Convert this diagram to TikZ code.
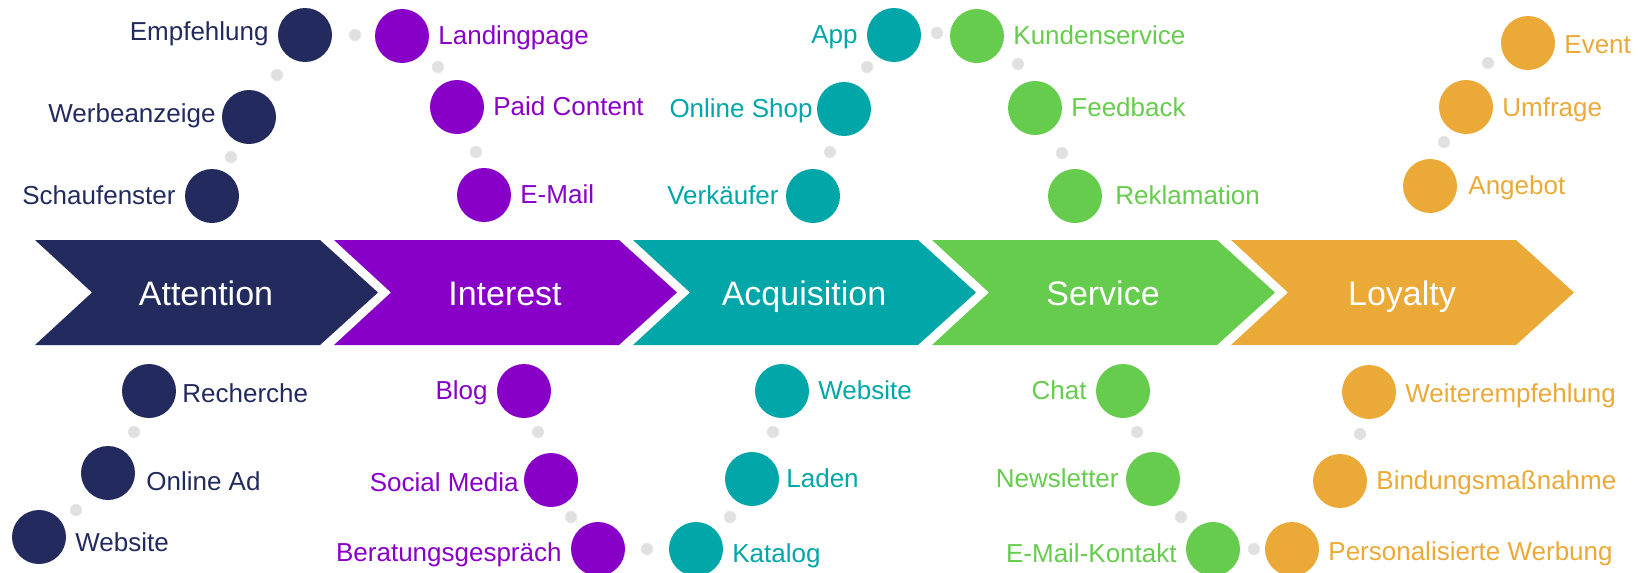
\documentclass[tikz,border=0pt]{standalone}
\usepackage{fontspec}
\setmainfont{Liberation Sans}
\usepackage{xcolor}
\definecolor{navy}{RGB}{35,43,94}
\definecolor{violet}{RGB}{136,0,200}
\definecolor{teal}{RGB}{0,166,168}
\definecolor{grass}{RGB}{102,204,77}
\definecolor{amber}{RGB}{235,169,56}
\definecolor{linkgray}{RGB}{224,224,224}

\begin{document}
\begin{tikzpicture}[x=1pt, y=-1pt,
    spot/.style={circle, fill=#1, minimum size=54pt, inner sep=0pt},
    tag/.style={text=#1, font=\fontsize{26}{30}\selectfont, inner sep=0pt, text height=18pt, text depth=1pt},
    ltag/.style={tag=#1, xshift=-9pt},
    rtag/.style={tag=#1, xshift=9pt},
    link/.style={circle, fill=linkgray, draw=linkgray!60, line width=0.6pt, minimum size=12pt, inner sep=0pt},
    stage/.style={text=white, font=\fontsize{34}{40}\selectfont, inner sep=0pt, anchor=base}
]
\useasboundingbox (0,0) rectangle (1642,573);
\clip (0,0) rectangle (1642,573);

% phase chevrons
\fill[navy]   (35,240)   -- ++(285,0) -- ++(58,52.5) -- ++(-58,52.5) -- ++(-285,0) -- ++(57,-52.5) -- cycle;
\fill[violet] (334,240)  -- ++(285,0) -- ++(58,52.5) -- ++(-58,52.5) -- ++(-285,0) -- ++(57,-52.5) -- cycle;
\fill[teal]   (633,240)  -- ++(285,0) -- ++(58,52.5) -- ++(-58,52.5) -- ++(-285,0) -- ++(57,-52.5) -- cycle;
\fill[grass]  (932,240)  -- ++(285,0) -- ++(58,52.5) -- ++(-58,52.5) -- ++(-285,0) -- ++(57,-52.5) -- cycle;
\fill[amber]  (1231,240) -- ++(285,0) -- ++(58,52.5) -- ++(-58,52.5) -- ++(-285,0) -- ++(57,-52.5) -- cycle;

\node[stage] (attention)   at (206,305)  {Attention};
\node[stage] (interest)    at (505,305)  {Interest};
\node[stage] (acquisition) at (804,305)  {Acquisition};
\node[stage] (service)     at (1103,305) {Service};
\node[stage] (loyalty)     at (1402,305) {Loyalty};

% Attention touchpoints
\node[spot=navy, label={[ltag=navy, yshift=3pt]left:Empfehlung}]                (empf)  at (305,35)  {};
\node[spot=navy, label={[ltag=navy, yshift=3pt, xshift=3pt]left:Werbeanzeige}]  (werb)  at (249,117) {};
\node[spot=navy, label={[ltag=navy]left:Schaufenster}]                          (schau) at (212,196) {};
\node[spot=navy, label={[rtag=navy, yshift=-3pt, xshift=-3pt]right:Recherche}]  (rech)  at (149,391) {};
\node[spot=navy, label={[rtag=navy, yshift=-9pt, xshift=2pt]right:Online Ad}]   (onad)  at (108,473) {};
\node[spot=navy, label={[rtag=navy, yshift=-6pt]right:Website}]                 (webA)  at (39,537)  {};

% Interest touchpoints
\node[spot=violet, label={[rtag=violet]right:Landingpage}]                              (land)   at (402,36)  {};
\node[spot=violet, label={[rtag=violet]right:Paid Content}]                             (paid)   at (457,107) {};
\node[spot=violet, label={[rtag=violet]right:E-Mail}]                                   (mail)   at (484,195) {};
\node[spot=violet, label={[ltag=violet]left:Blog}]                                      (blog)   at (524,391) {};
\node[spot=violet, label={[ltag=violet, yshift=-3pt, xshift=4pt]left:Social Media}]     (social) at (551,480) {};
\node[spot=violet, label={[ltag=violet, yshift=-4pt]left:Beratungsgespräch}]            (berat)  at (598,549) {};

% Acquisition touchpoints
\node[spot=teal, label={[ltag=teal]left:App}]                           (app)   at (894,35)  {};
\node[spot=teal, label={[ltag=teal, xshift=5pt]left:Online Shop}]       (shop)  at (844,109) {};
\node[spot=teal, label={[ltag=teal, xshift=2pt]left:Verkäufer}]         (verk)  at (813,196) {};
\node[spot=teal, label={[rtag=teal]right:Website}]                      (webB)  at (782,391) {};
\node[spot=teal, label={[rtag=teal, xshift=-2pt]right:Laden}]           (laden) at (752,479) {};
\node[spot=teal, label={[rtag=teal, yshift=-5pt]right:Katalog}]         (kat)   at (696,549) {};

% Service touchpoints
\node[spot=grass, label={[rtag=grass]right:Kundenservice}]              (kunden) at (977,36)   {};
\node[spot=grass, label={[rtag=grass]right:Feedback}]                   (feed)   at (1035,108) {};
\node[spot=grass, label={[rtag=grass, xshift=4pt]right:Reklamation}]    (rekl)   at (1075,196) {};
\node[spot=grass, label={[ltag=grass]left:Chat}]                        (chat)   at (1123,391) {};
\node[spot=grass, label={[ltag=grass, xshift=2pt]left:Newsletter}]      (news)   at (1153,479) {};
\node[spot=grass, label={[ltag=grass, yshift=-5pt]left:E-Mail-Kontakt}] (emk)    at (1213,549) {};

% Loyalty touchpoints
\node[spot=amber, label={[rtag=amber, yshift=-2pt]right:Event}]                   (event)  at (1528,43)  {};
\node[spot=amber, label={[rtag=amber, yshift=-1pt]right:Umfrage}]                 (umfr)   at (1466,107) {};
\node[spot=amber, label={[rtag=amber, xshift=2pt]right:Angebot}]                  (angeb)  at (1430,186) {};
\node[spot=amber, label={[rtag=amber, yshift=-2pt]right:Weiterempfehlung}]        (weiter) at (1369,392) {};
\node[spot=amber, label={[rtag=amber]right:Bindungsmaßnahme}]                     (bind)   at (1340,481) {};
\node[spot=amber, label={[rtag=amber, yshift=-3pt]right:Personalisierte Werbung}] (pers)   at (1292,549) {};

% grey link dots, upper arcs
\node[link] (l1)  at (355,35)   {};
\node[link] (l2)  at (277,75)   {};
\node[link] (l3)  at (231,157)  {};
\node[link] (l4)  at (438,67)   {};
\node[link] (l5)  at (476,152)  {};
\node[link] (l6)  at (937,33)   {};
\node[link] (l7)  at (867,67)   {};
\node[link] (l8)  at (830,152)  {};
\node[link] (l9)  at (1018,64)  {};
\node[link] (l10) at (1062,153) {};
\node[link] (l11) at (1488,63)  {};
\node[link] (l12) at (1444,142) {};

% grey link dots, lower arcs
\node[link] (l13) at (134,432)  {};
\node[link] (l14) at (76,510)   {};
\node[link] (l15) at (538,432)  {};
\node[link] (l16) at (571,517)  {};
\node[link] (l17) at (647,549)  {};
\node[link] (l18) at (773,432)  {};
\node[link] (l19) at (730,517)  {};
\node[link] (l20) at (1137,432) {};
\node[link] (l21) at (1181,517) {};
\node[link] (l22) at (1254,549) {};
\node[link] (l23) at (1360,434) {};
\end{tikzpicture}
\end{document}
